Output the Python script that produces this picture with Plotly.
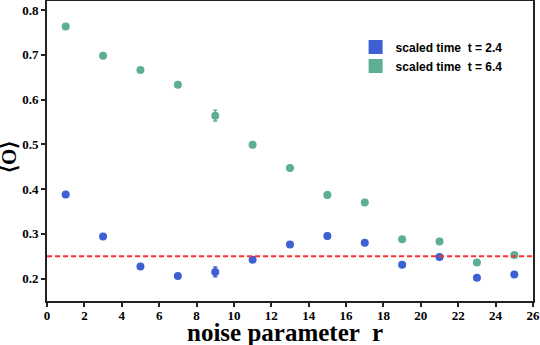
import plotly.graph_objects as go

# noise parameter r
r_vals = [1, 3, 5, 7, 9, 11, 13, 15, 17, 19, 21, 23, 25]

# <O> at scaled time t = 2.4
obs_t24 = [0.388, 0.294, 0.227, 0.206, 0.215, 0.242, 0.276, 0.295, 0.280, 0.231, 0.248, 0.202, 0.209]
err_t24 = [0.004, 0.004, 0.004, 0.004, 0.011, 0.004, 0.005, 0.006, 0.005, 0.004, 0.005, 0.004, 0.004]

# <O> at scaled time t = 6.4
obs_t64 = [0.763, 0.698, 0.666, 0.633, 0.564, 0.499, 0.447, 0.387, 0.370, 0.288, 0.283, 0.236, 0.253]
err_t64 = [0.003, 0.003, 0.004, 0.004, 0.012, 0.006, 0.006, 0.007, 0.006, 0.004, 0.005, 0.004, 0.004]

x_ticks = list(range(0, 27, 2))
y_ticks = [0.2, 0.3, 0.4, 0.5, 0.6, 0.7, 0.8]

reference_level = 0.25

blue = "#3d60d4"
green = "#5cae95"
serif = "Liberation Serif, Times New Roman, serif"

fig = go.Figure()

for y, err, col in [(obs_t24, err_t24, blue), (obs_t64, err_t64, green)]:
    fig.add_trace(go.Scatter(
        x=r_vals, y=y, mode="markers",
        marker=dict(color=col, size=8),
        error_y=dict(type="data", array=err, color=col, thickness=1.5, width=2),
        showlegend=False, hoverinfo="skip"
    ))

# legend entries with square swatches
for name, col in [("scaled time  t = 2.4", blue), ("scaled time  t = 6.4", green)]:
    fig.add_trace(go.Scatter(
        x=[None], y=[None], mode="markers", name=name,
        marker=dict(color=col, size=14, symbol="square")
    ))

# dashed reference line
fig.add_shape(type="line", xref="paper", x0=0, x1=1, y0=reference_level, y1=reference_level,
              line=dict(color="#ff3030", width=2, dash="5px,3px"))

# axis titles as annotations so they sit where the reference has them
fig.add_annotation(text="<b>noise parameter  r</b>", xref="paper", yref="paper",
                   x=0.49, y=0, yshift=-16, xanchor="center", yanchor="top", showarrow=False,
                   font=dict(family=serif, size=25, color="black"))
fig.add_annotation(text="<b>⟨O⟩</b>", xref="paper", yref="paper",
                   x=0, y=0.48, xshift=-38, xanchor="center", yanchor="middle", textangle=-90,
                   showarrow=False, font=dict(family=serif, size=21, color="black"))

axis_common = dict(showgrid=False, zeroline=False, automargin=False,
                   showline=True, linecolor="#222", linewidth=2, mirror=True,
                   ticks="outside", ticklen=4, tickwidth=1.5, tickcolor="#222",
                   tickfont=dict(family=serif, size=13, color="black"))

fig.update_layout(
    width=540, height=345,
    margin=dict(l=47, r=7, t=1, b=44),
    plot_bgcolor="white", paper_bgcolor="white",
    legend=dict(x=0.635, y=0.895, xanchor="left", yanchor="top",
                font=dict(family="Liberation Sans", size=12, color="black", weight="bold"),
                bgcolor="rgba(0,0,0,0)", tracegroupgap=0, itemsizing="trace"),
    xaxis=dict(range=[0, 26], tickvals=x_ticks, ticklabelstandoff=-3,
               ticktext=["<b>%d</b>" % v for v in x_ticks], **axis_common),
    yaxis=dict(range=[0.15, 0.82], tickvals=y_ticks,
               ticktext=["<b>%.1f</b>" % v for v in y_ticks], **axis_common),
)

# page body has a default 8px margin; drop it so the figure fills the window
fig.write_html("out.html", config={"displayModeBar": False},
               post_script="document.body.style.margin='0';")
